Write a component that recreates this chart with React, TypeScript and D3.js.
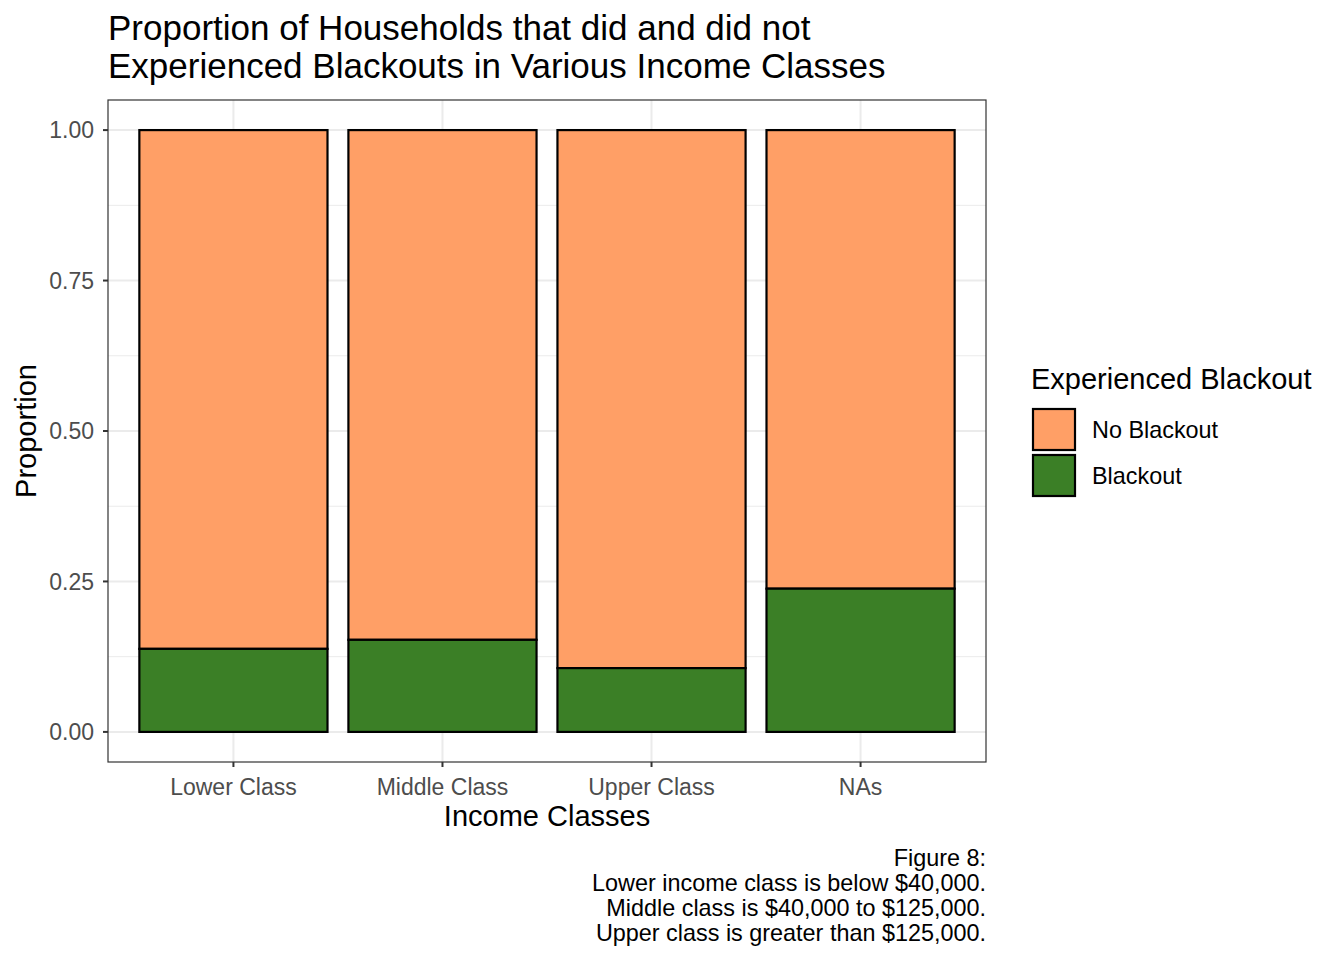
import React from "react";
import * as d3 from "d3";

const categories = ["Lower Class", "Middle Class", "Upper Class", "NAs"];
const blackout = [0.138, 0.153, 0.106, 0.238];
const noBlackout = blackout.map((b) => 1 - b);
const yTicks = [0, 0.25, 0.5, 0.75, 1.0];
const yMinor = [0.125, 0.375, 0.625, 0.875];
const seriesNames = ["No Blackout", "Blackout"];
const seriesColors = ["#FF9F66", "#3B7F26"];
const captionLines = [
  "Figure 8:",
  "Lower income class is below $40,000.",
  "Middle class is $40,000 to $125,000.",
  "Upper class is greater than $125,000.",
];

const W = 1344;
const H = 960;
const font = "'Liberation Sans', Arial, Helvetica, sans-serif";

export default function App() {
  const pL = 108, pR = 986, pT = 100, pB = 762;
  const x = d3.scaleBand<string>().domain(categories).range([pL, pR]).paddingInner(0.1).paddingOuter(0.15);
  const y = d3.scaleLinear().domain([-0.05, 1.05]).range([pB, pT]);
  const bw = x.bandwidth();

  const rows = categories.map((c, i) => ({ c, b: blackout[i], n: noBlackout[i] }));

  return (
    <svg width={W} height={H} style={{ position: "absolute", left: 0, top: 0, fontFamily: font }}>
      <rect x={0} y={0} width={W} height={H} fill="white" />
      {yMinor.map((t) => (
        <line key={"m" + t} x1={pL} x2={pR} y1={y(t)} y2={y(t)} stroke="#EBEBEB" strokeWidth={1} />
      ))}
      {yTicks.map((t) => (
        <line key={"g" + t} x1={pL} x2={pR} y1={y(t)} y2={y(t)} stroke="#EBEBEB" strokeWidth={2} />
      ))}
      {categories.map((c) => (
        <line key={"gx" + c} x1={x(c)! + bw / 2} x2={x(c)! + bw / 2} y1={pT} y2={pB} stroke="#EBEBEB" strokeWidth={2} />
      ))}
      {rows.map((r) => (
        <g key={r.c}>
          <rect x={x(r.c)} y={y(1)} width={bw} height={y(r.b) - y(1)} fill={seriesColors[0]} stroke="black" strokeWidth={2.2} />
          <rect x={x(r.c)} y={y(r.b)} width={bw} height={y(0) - y(r.b)} fill={seriesColors[1]} stroke="black" strokeWidth={2.2} />
        </g>
      ))}
      <rect x={pL} y={pT} width={pR - pL} height={pB - pT} fill="none" stroke="#333333" strokeWidth={1.2} />
      {yTicks.map((t) => (
        <g key={"yt" + t}>
          <line x1={pL - 5} x2={pL} y1={y(t)} y2={y(t)} stroke="#333333" strokeWidth={2} />
          <text x={pL - 14} y={y(t)} dy="0.36em" textAnchor="end" fontSize={23} fill="#4D4D4D">
            {t.toFixed(2)}
          </text>
        </g>
      ))}
      {categories.map((c) => (
        <g key={"xt" + c}>
          <line x1={x(c)! + bw / 2} x2={x(c)! + bw / 2} y1={pB} y2={pB + 5} stroke="#333333" strokeWidth={2} />
          <text x={x(c)! + bw / 2} y={795} textAnchor="middle" fontSize={23} fill="#4D4D4D">
            {c}
          </text>
        </g>
      ))}
      <text x={(pL + pR) / 2} y={826} textAnchor="middle" fontSize={29} fill="black">
        Income Classes
      </text>
      <text transform={`translate(36, ${(pT + pB) / 2}) rotate(-90)`} textAnchor="middle" fontSize={29} fill="black">
        Proportion
      </text>
      <text x={108} y={40} fontSize={35} fill="black">Proportion of Households that did and did not</text>
      <text x={108} y={78} fontSize={35} fill="black">Experienced Blackouts in Various Income Classes</text>
      <text x={1031} y={389} fontSize={29} fill="black">Experienced Blackout</text>
      {seriesNames.map((s, i) => (
        <g key={s}>
          <rect x={1033} y={409 + i * 46} width={42} height={41} fill={seriesColors[i]} stroke="black" strokeWidth={2.2} />
          <text x={1092} y={430 + i * 46} dy="0.36em" fontSize={23.4} fill="black">{s}</text>
        </g>
      ))}
      {captionLines.map((l, i) => (
        <text key={i} x={pR} y={866 + i * 25} textAnchor="end" fontSize={23.4} fill="black">{l}</text>
      ))}
    </svg>
  );
}
